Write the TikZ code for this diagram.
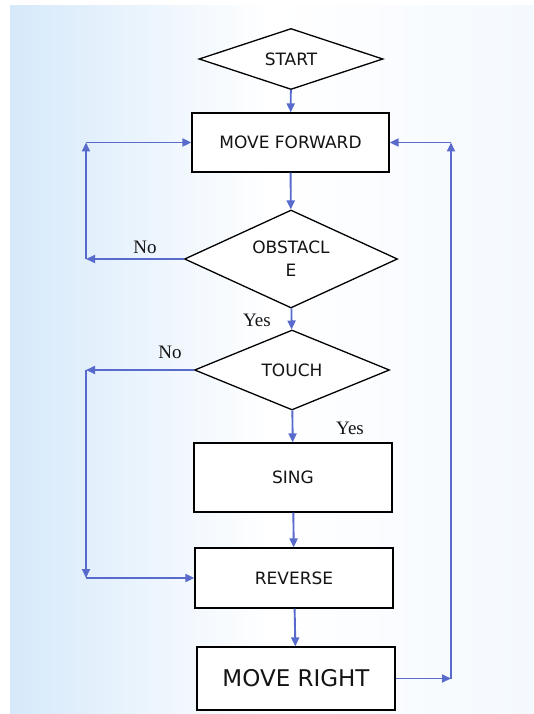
\documentclass[tikz,border=0pt]{standalone}
\usepackage{fontspec}
\setmainfont{Liberation Serif}
\newfontfamily\boxfont{DejaVu Sans}
\usetikzlibrary{shapes.geometric,arrows.meta}
\definecolor{flowblue}{RGB}{88,106,204}
\definecolor{bgleft}{RGB}{214,233,250}
\definecolor{bgright}{RGB}{244,249,254}
\definecolor{inktext}{RGB}{20,20,20}
\begin{document}
\begin{tikzpicture}[x=1pt, y=-1pt,
    box/.style={draw=black, line width=1.3pt, fill=white, rectangle, minimum width=198pt,
        text=inktext, font=\boxfont\fontsize{17}{19}\selectfont},
    choice/.style={draw=black, line width=1.3pt, fill=white, diamond, aspect=2, inner sep=0pt,
        text=inktext, font=\boxfont\fontsize{17}{23}\selectfont},
    flow/.style={draw=flowblue, line width=1.9pt, -{Triangle[length=9pt,width=8pt]}},
    answer/.style={text=inktext, font=\fontsize{19}{22}\selectfont}]
    \useasboundingbox (0,0) rectangle (533,714);
    \shade[left color=bgleft, right color=bgright, middle color=white] (10,6) rectangle (533,714);

    % Nodes
    \node at (291, 59) (start) [choice, minimum width=184pt, minimum height=61pt] {START};
    \node at (290.5, 142.5) (forward) [box, minimum width=197pt, minimum height=59pt] {MOVE FORWARD};
    \node at (291, 259) (obstacle) [choice, minimum width=213pt, minimum height=98pt, align=center] {OBSTACL\\E};
    \node at (292, 370) (touch) [choice, minimum width=195pt, minimum height=80pt] {TOUCH};
    \node at (293, 477.5) (sing) [box, minimum height=69pt] {SING};
    \node at (294, 578) (reverse) [box, minimum height=60pt] {REVERSE};
    \node at (296, 678.5) (right) [box, minimum height=63pt, font=\boxfont\fontsize{23}{26}\selectfont] {MOVE RIGHT};
    \coordinate (leftx) at (86, 0);
    \coordinate (rightx) at (451, 0);

    % Arrows
    \draw[flow] (start) -- (forward);
    \draw[flow] (forward) -- (obstacle);
    \draw[flow] (obstacle) -- (touch);
    \draw[flow] (touch) -- (sing);
    \draw[flow] (sing) -- (reverse);
    \draw[flow] (reverse) -- (right);

    \draw[flow] (obstacle.west) -- (obstacle.west -| leftx) coordinate (nobend);
    \draw[flow] (nobend) -- (nobend |- forward.west) coordinate (notop);
    \draw[flow] (notop) -- (forward.west);

    \draw[flow] (touch.west) -- (touch.west -| leftx) coordinate (touchbend);
    \draw[flow] (touchbend) -- (touchbend |- reverse.west) coordinate (touchlow);
    \draw[flow] (touchlow) -- (reverse.west);

    \draw[flow] (right.east) -- (right.east -| rightx) coordinate (backlow);
    \draw[flow] (backlow) -- (backlow |- forward.east) coordinate (backtop);
    \draw[flow] (backtop) -- (forward.east);

    % Labels
    \node at (145, 247) (no1) [answer] {No};
    \node at (170, 352) (no2) [answer] {No};
    \node at (257, 320) (yes1) [answer] {Yes};
    \node at (350, 428) (yes2) [answer] {Yes};
\end{tikzpicture}
\end{document}
